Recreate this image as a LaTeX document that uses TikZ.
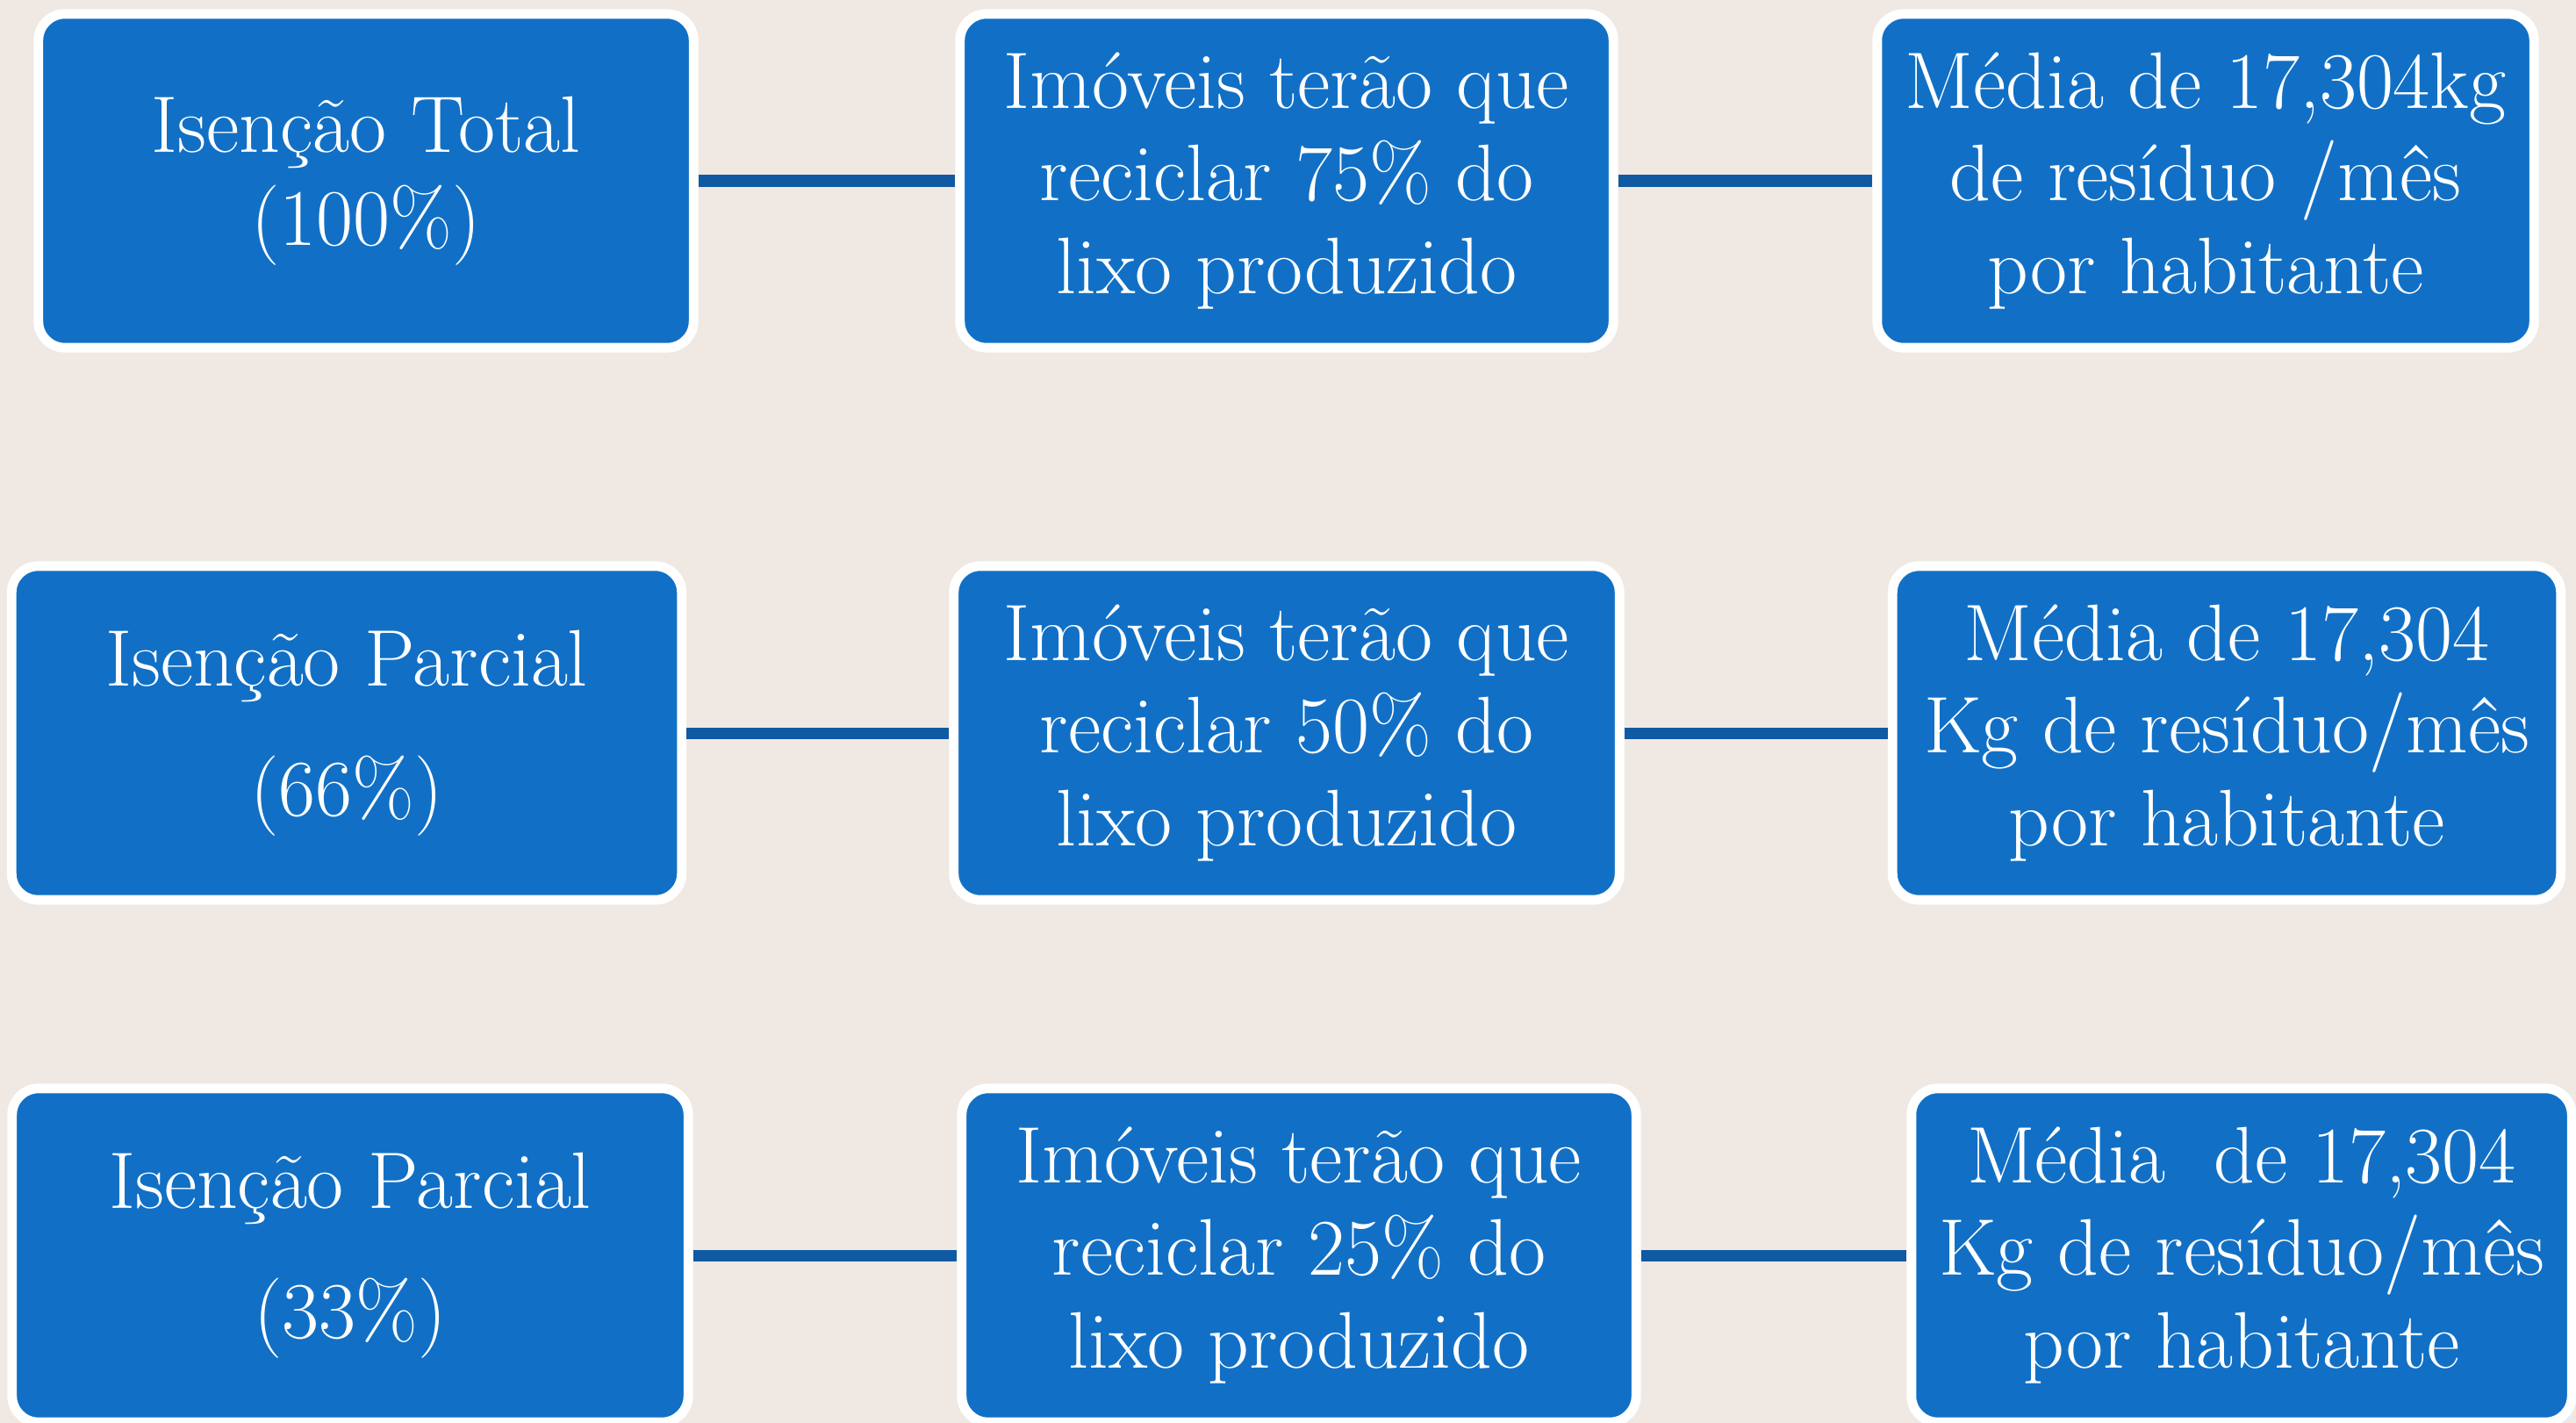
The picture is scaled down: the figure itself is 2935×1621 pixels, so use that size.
\documentclass[tikz,border=0pt]{standalone}
\usepackage{fontspec}
\definecolor{bgcol}{HTML}{F0E9E3}
\definecolor{boxblue}{HTML}{1170C6}
\definecolor{linkblue}{HTML}{0F5AA2}
\begin{document}
\begin{tikzpicture}[x=0.01cm,y=-0.01cm,
  box/.style={draw=white,line width=3.1pt,fill=boxblue,rounded corners=0.3cm,
    text=white,align=center,inner sep=0pt,minimum height=3.8cm,
    font=\fontsize{26}{30}\selectfont},
  link/.style={linkblue,line width=3.7pt}]
\fill[bgcol](0,0) rectangle (2935,1621);
\useasboundingbox (0,0) rectangle (2935,1621);
% linha 1
\node[box,minimum width=7.46cm](tot) at (417,206){Isenção Total\\(100\%)};
\node[box,minimum width=7.44cm](rec75) at (1466,206){Imóveis terão que\\reciclar 75\% do\\lixo produzido};
\node[box,minimum width=7.48cm](med1) at (2513,206){Média de 17,304kg\\de resíduo /mês\\por habitante};
% linha 2
\node[box,minimum width=7.63cm](par66) at (395,835){Isenção Parcial\\[12pt](66\%)};
\node[box,minimum width=7.58cm](rec50) at (1466,835){Imóveis terão que\\reciclar 50\% do\\lixo produzido};
\node[box,minimum width=7.61cm](med2) at (2537,835){Média de 17,304\\Kg de resíduo/mês\\por habitante};
% linha 3
\node[box,minimum width=7.7cm](par33) at (399,1430){Isenção Parcial\\[12pt](33\%)};
\node[box,minimum width=7.68cm](rec25) at (1480,1430){Imóveis terão que\\reciclar 25\% do\\lixo produzido};
\node[box,minimum width=7.52cm](med3) at (2554,1430){Média\ \ de 17,304\\Kg de resíduo/mês\\por habitante};
\draw[link](tot)--(rec75);
\draw[link](rec75)--(med1);
\draw[link](par66)--(rec50);
\draw[link](rec50)--(med2);
\draw[link](par33)--(rec25);
\draw[link](rec25)--(med3);
\end{tikzpicture}
\end{document}
